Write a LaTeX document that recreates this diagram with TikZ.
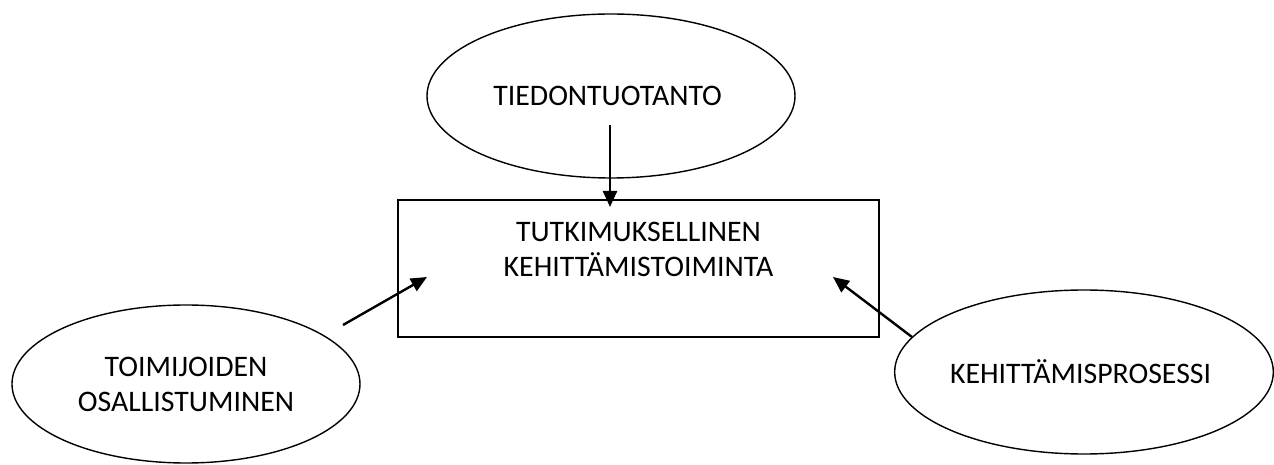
\documentclass[tikz,border=0pt]{standalone}
\usepackage{fontspec}
\setmainfont{Carlito}
\usepackage{tikz}
\usetikzlibrary{shapes.geometric,arrows.meta}

\begin{document}
\begin{tikzpicture}[x=1pt,y=1pt,
    font=\fontsize{29.8}{35}\selectfont,
    ellipsebox/.style={draw, ellipse, line width=1.4pt, inner sep=0pt, align=center},
    arrowline/.style={line width=2.4pt, -{Triangle[length=16pt,width=14pt]}}
]

\useasboundingbox (-638.5,-196.5) rectangle (635.5,268.5);

\node[draw,
    line width=2.7pt,
    minimum width=481pt,
    minimum height=137pt,
    inner sep=0pt,
    align=center
] (kehtoim) at (0,0) { TUTKIMUKSELLINEN\\KEHITTÄMISTOIMINTA\\[4pt] };

\node[ellipsebox,
    minimum width=368pt,
    minimum height=164pt
] (tiedon) at (-27.5,172.5) { TIEDONTUOTANTO };

\node[ellipsebox,
    minimum width=348pt,
    minimum height=158pt
] (osall) at (-452.5,-115.5) { TOIMIJOIDEN\\OSALLISTUMINEN };

\node[ellipsebox,
    minimum width=378pt,
    minimum height=164pt
] (prosessi) at (445.5,-103.5) { KEHITTÄMISPROSESSI };

\draw[arrowline] ([shift={(-1,-29)}]tiedon.center) -- ([shift={(-28.5,61.5)}]kehtoim.center);
\draw[arrowline] ([shift={(157,59)}]osall.center) -- ([shift={(-211.5,-8.5)}]kehtoim.center);
\draw[arrowline] ([shift={(-172,35)}]prosessi.center) -- ([shift={(194.5,-8.5)}]kehtoim.center);

\end{tikzpicture}
\end{document}
